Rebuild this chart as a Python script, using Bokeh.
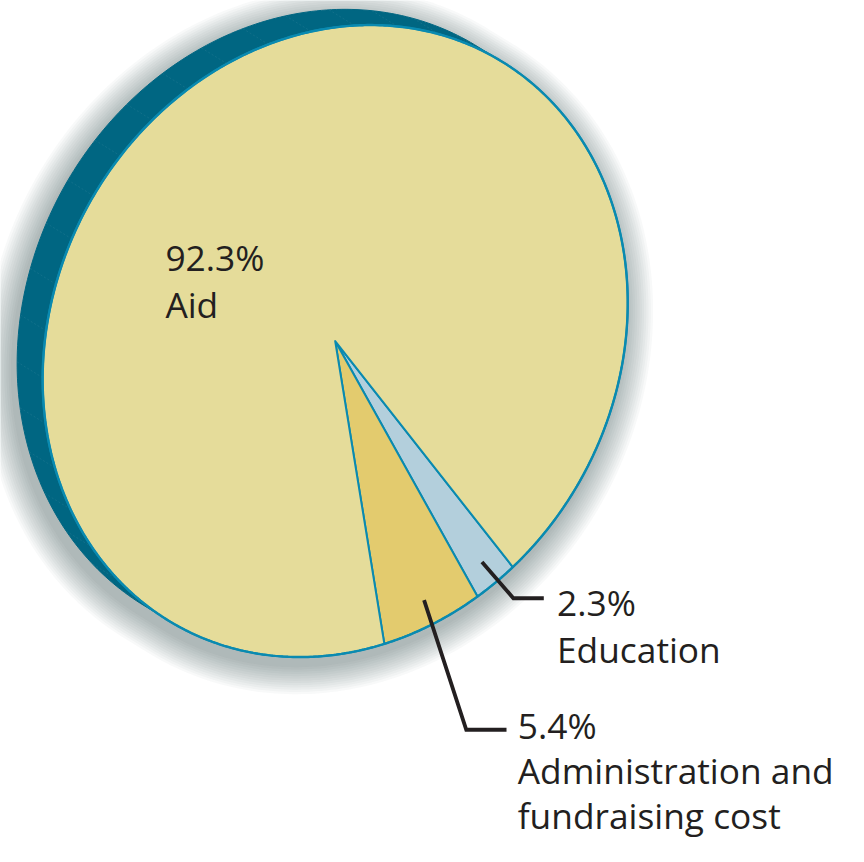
import numpy as np
from bokeh.plotting import figure
from bokeh.embed import file_html
from bokeh.resources import INLINE
from bokeh.models import Range1d
from bokeh.core.properties import value

# ---------------- data ----------------
categories = ["Education", "Administration and fundraising cost", "Aid"]
shares = [2.3, 5.4, 92.3]
pct_labels = ["2.3%", "5.4%", "92.3%"]
name_lines = [["Education"], ["Administration and", "fundraising cost"], ["Aid"]]
colors = ["#b3cfdc", "#e3cb6e", "#e5dc9a"]

# ---------------- layout / style ----------------
W, H = 848, 846                # figure size (fits the 864x862 window with 8px margin)
REF_W, REF_H = 864, 862        # drawing coordinate space
CX, CY = 341.0, 347.0          # pie centre
A, B = 331.7, 287.2            # semi-axes of the tilted face
TILT = np.radians(28.7)        # tilt of major axis from vertical
T0 = 110.3                     # parametric start angle of first slice (deg)
OFF = (-26.0, -16.0)           # extrusion offset of the back face
EDGE = "#0a8ab0"
SIDE = "#006682"
TEXT = "#231f20"
FONT = "Open Sans"
FS = "35.3px"
TEXT_DY = -15                  # compensates the renderer's baseline placement

U = np.array([np.sin(TILT), -np.cos(TILT)])
V = np.array([np.cos(TILT), np.sin(TILT)])


def ell(t_deg, a=A, b=B, c=(CX, CY), r=1.0):
    t = np.radians(np.asarray(t_deg, dtype=float))
    x = c[0] + r * (a * np.cos(t) * U[0] + b * np.sin(t) * V[0])
    y = c[1] + r * (a * np.cos(t) * U[1] + b * np.sin(t) * V[1])
    return x, y


def hull(x, y):
    pts = sorted(set(zip(np.round(x, 3), np.round(y, 3))))

    def cross(o, a_, b_):
        return (a_[0] - o[0]) * (b_[1] - o[1]) - (a_[1] - o[1]) * (b_[0] - o[0])

    lower, upper = [], []
    for p_ in pts:
        while len(lower) >= 2 and cross(lower[-2], lower[-1], p_) <= 0:
            lower.pop()
        lower.append(p_)
    for p_ in reversed(pts):
        while len(upper) >= 2 and cross(upper[-2], upper[-1], p_) <= 0:
            upper.pop()
        upper.append(p_)
    h = lower[:-1] + upper[:-1]
    return [float(q[0]) for q in h], [float(q[1]) for q in h]


def body(expand=0.0, shift=(0.0, 0.0)):
    ts = np.linspace(0, 360, 361)
    c1 = (CX + shift[0], CY + shift[1])
    c2 = (CX + OFF[0] + shift[0], CY + OFF[1] + shift[1])
    x1, y1 = ell(ts, A + expand, B + expand, c1)
    x2, y2 = ell(ts, A + expand, B + expand, c2)
    return hull(np.concatenate([x1, x2]), np.concatenate([y1, y2]))


p = figure(width=W, height=H, output_backend="svg", toolbar_location=None,
           x_range=Range1d(0, REF_W), y_range=Range1d(REF_H, 0),
           x_axis_location=None, y_axis_location=None, min_border=0,
           outline_line_color=None, tools="")
p.grid.visible = False
p.background_fill_color = "white"
p.border_fill_color = "white"

# soft drop shadow (mostly below / left)
for k in range(13, 0, -1):
    sx, sy = body(expand=k * 2.3, shift=(-4.0, 8.0))
    p.patch(sx, sy, fill_color="#1d3a4c", fill_alpha=0.032, line_color=None)

# extruded side
hx, hy = body()
p.patch(hx, hy, fill_color=SIDE, line_color=SIDE, line_width=1)

# faint facet lines on the side
for t in np.arange(0, 360, 8.5):
    fx, fy = ell(t)
    bx, by = ell(t, c=(CX + OFF[0], CY + OFF[1]))
    p.line([float(fx), float(bx)], [float(fy), float(by)], line_color="#3f8aa0",
           line_alpha=0.35, line_width=0.8, line_dash="2 2")

# face slices
cum = np.concatenate([[0.0], np.cumsum(shares)])
mids = []
for i, s in enumerate(shares):
    t1 = T0 + 360.0 * cum[i] / 100.0
    t2 = T0 + 360.0 * cum[i + 1] / 100.0
    mids.append((t1 + t2) / 2.0)
    n = max(int(abs(t2 - t1)) * 2, 8)
    ex, ey = ell(np.linspace(t1, t2, n))
    xs = [CX] + [float(v) for v in ex]
    ys = [CY] + [float(v) for v in ey]
    p.patch(xs, ys, fill_color=colors[i], line_color=EDGE, line_width=2,
            line_join="round")

# face outline
ox, oy = ell(np.linspace(0, 360, 721))
p.line([float(v) for v in ox], [float(v) for v in oy], line_color=EDGE, line_width=2.4)

# leader lines and labels
leader_bends = {0: (32, 37, 31), 1: (43, 132, 41)}
text_pos = {0: (567, 628, 48), 1: (527, 753, 46), 2: (168, 276, 48)}
for i in range(len(shares)):
    if i in leader_bends:
        ax, ay = ell(mids[i], r=0.915)
        ax, ay = float(ax), float(ay)
        dx, dy, hl = leader_bends[i]
        p.line([ax, ax + dx, ax + dx + hl], [ay, ay + dy, ay + dy],
               line_color=TEXT, line_width=3.8, line_join="miter")
    tx, ty, gap = text_pos[i]
    lines = [pct_labels[i]] + name_lines[i]
    p.text(x=[tx] * len(lines),
           y=[ty + TEXT_DY + j * gap for j in range(len(lines))],
           text=lines, text_font=value(FONT), text_font_size=FS,
           text_color=TEXT, text_baseline="alphabetic", text_align="left")

open("out.html", "w").write(file_html(p, INLINE))
